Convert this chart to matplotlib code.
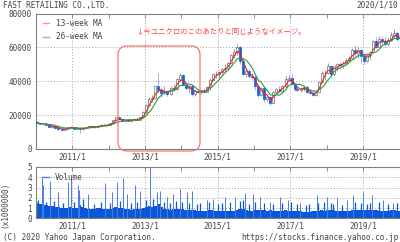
import matplotlib
matplotlib.use("Agg")
import matplotlib.pyplot as plt
import matplotlib.dates as mdates
from matplotlib.patches import FancyBboxPatch
from matplotlib.transforms import IdentityTransform
from matplotlib.lines import Line2D
import numpy as np
import pandas as pd

# ---------------- data (monthly candles, yen) ----------------
months = pd.date_range("2010-01-01", "2020-01-01", freq="MS")

open_ = [
    15800, 15200, 14900, 15000, 14000, 13200, 13500, 12300, 12000, 11500, 12100, 12700,
    12900, 12000, 12500, 11700, 12200, 12800, 13400, 13200, 12800, 13800, 14200, 13900,
    14100, 15300, 17000, 18600, 17600, 16400, 17200, 16800, 17100, 17800, 17300, 18600,
    21900, 25900, 29800, 30100, 37000, 35000, 33200, 34000, 32600, 36200, 35500, 41200,
    43500, 37800, 35800, 37000, 32500, 34200, 33400, 34200, 33800, 36400, 41000, 44000,
    44200, 45200, 47000, 48000, 50600, 55500, 57500, 60000, 52000, 44000, 46000, 43000,
    42300, 37000, 32000, 36000, 29500, 30500, 27300, 33800, 35400, 34000, 37200, 41500,
    42000, 38500, 35500, 35000, 35500, 36800, 33800, 33000, 31800, 33800, 39500, 45000,
    45000, 49000, 44500, 48800, 50000, 49500, 51000, 52500, 54000, 58500, 56500, 58500,
    55000, 52000, 55500, 57000, 63500, 60500, 65000, 64000, 62000, 64500, 67500, 68500,
    65000]
high = [
    16300, 15600, 15500, 15300, 14500, 13800, 13700, 12800, 12600, 12300, 13000, 13300,
    13200, 12800, 13000, 12500, 13000, 13600, 14000, 13600, 14000, 14600, 14800, 14500,
    15500, 17200, 18900, 19200, 18000, 17600, 18000, 17400, 18200, 18600, 18800, 22300,
    26500, 30500, 32000, 37500, 45000, 36500, 37000, 35000, 37000, 38500, 42000, 44800,
    44000, 39000, 37500, 38000, 35000, 35500, 35000, 35800, 37000, 42000, 45000, 46000,
    46000, 48000, 50000, 51500, 56000, 59000, 62000, 61000, 53000, 48000, 47000, 45000,
    43000, 38500, 36500, 37000, 32000, 31500, 34500, 36000, 37000, 38000, 43000, 43500,
    44000, 39000, 37000, 36500, 37500, 37500, 34500, 34000, 34500, 40000, 46000, 46500,
    51000, 49500, 49000, 50500, 51500, 52000, 53500, 55000, 59500, 61500, 60000, 59000,
    56000, 56000, 58000, 64500, 66000, 66500, 67000, 66000, 66000, 69000, 71000, 69500,
    66500]
low = [
    14800, 14500, 14200, 13800, 12800, 12500, 12000, 11500, 11200, 11000, 11800, 12300,
    11800, 11600, 9400, 11200, 11900, 12400, 12900, 12400, 12500, 13200, 13500, 13600,
    14000, 15100, 16800, 17300, 16000, 15800, 16600, 16200, 16700, 16900, 17000, 18400,
    21500, 25500, 27500, 29500, 33500, 30500, 32500, 31500, 32000, 34000, 35000, 40000,
    37000, 35000, 33800, 31500, 31500, 33000, 32500, 33200, 33500, 35000, 40500, 42000,
    42000, 44500, 45500, 46500, 50000, 54000, 55500, 50000, 43500, 42500, 42000, 41000,
    35000, 30500, 31000, 28000, 28500, 26000, 27000, 32500, 33000, 33500, 36000, 40000,
    38000, 34500, 34000, 33500, 34500, 33000, 32500, 31000, 31500, 33500, 39000, 41000,
    44000, 42500, 43000, 46000, 47500, 48000, 49500, 51500, 53500, 54500, 54000, 50500,
    50000, 51500, 53000, 56500, 59500, 60000, 62000, 60000, 61000, 63500, 65500, 64000,
    63000]
close = [
    15200, 14900, 15000, 14000, 13200, 13500, 12300, 12000, 11500, 12100, 12700, 12900,
    12000, 12500, 11700, 12200, 12800, 13400, 13200, 12800, 13800, 14200, 13900, 14100,
    15300, 17000, 18600, 17600, 16400, 17200, 16800, 17100, 17800, 17300, 18600, 21900,
    25900, 29800, 30100, 37000, 35000, 33200, 34000, 32600, 36200, 35500, 41200, 43500,
    37800, 35800, 37000, 32500, 34200, 33400, 34200, 33800, 36400, 41000, 44000, 44200,
    45200, 47000, 48000, 50600, 55500, 57500, 60000, 52000, 44000, 46000, 43000, 42300,
    37000, 32000, 36000, 29500, 30500, 27300, 33800, 35400, 34000, 37200, 41500, 42000,
    38500, 35500, 35000, 35500, 36800, 33800, 33000, 31800, 33800, 39500, 45000, 45000,
    49000, 44500, 48800, 50000, 49500, 51000, 52500, 54000, 58500, 56500, 58500, 55000,
    52000, 55500, 57000, 63500, 60500, 65000, 64000, 62000, 64500, 67500, 68500, 65000,
    63500]

# monthly base volume (x1,000,000 shares)
volume_base = [
    1.5, 1.4, 1.3, 1.3, 1.2, 1.2, 1.1, 1.1, 1.0, 1.0, 1.0, 1.1,
    1.0, 1.0, 1.3, 1.1, 1.0, 0.9, 0.9, 0.9, 1.0, 1.0, 0.9, 0.9,
    0.9, 1.0, 1.1, 1.0, 1.0, 0.9, 0.9, 0.8, 0.9, 0.9, 0.9, 1.0,
    1.1, 1.2, 1.1, 1.2, 1.4, 1.1, 0.9, 0.9, 0.8, 0.9, 0.9, 0.9,
    0.9, 0.8, 0.8, 0.8, 0.8, 0.7, 0.7, 0.7, 0.7, 0.8, 0.8, 0.7,
    0.7, 0.7, 0.7, 0.7, 0.7, 0.7, 0.8, 0.9, 0.9, 0.8, 0.7, 0.7,
    0.8, 0.8, 0.8, 0.8, 0.7, 0.8, 0.7, 0.7, 0.7, 0.7, 0.8, 0.7,
    0.7, 0.7, 0.7, 0.7, 0.6, 0.6, 0.6, 0.7, 0.7, 0.7, 0.8, 0.7,
    0.8, 0.8, 0.8, 0.7, 0.7, 0.7, 0.7, 0.7, 0.8, 0.8, 0.8, 0.8,
    0.8, 0.8, 0.8, 0.8, 0.8, 0.7, 0.7, 0.7, 0.7, 0.8, 0.8, 0.7,
    0.7]

# tall volume spikes
spike_dates = [
    "2010-02-28", "2010-03-14", "2010-05-22", "2010-08-10", "2010-11-17", "2010-12-24",
    "2011-02-28", "2011-03-14", "2011-06-05", "2011-11-24", "2012-02-02", "2012-03-21",
    "2012-05-26", "2012-07-01", "2012-09-24", "2012-11-14", "2013-02-21", "2013-05-01",
    "2013-06-03", "2013-08-08", "2013-10-09", "2013-12-20", "2014-02-24", "2014-04-16",
    "2014-09-13", "2014-11-17", "2015-03-18", "2015-06-25", "2015-10-05", "2015-12-24",
    "2016-03-03", "2016-06-13", "2016-09-20", "2016-12-09", "2017-04-10", "2017-09-24",
    "2018-01-05", "2018-04-12", "2018-07-24", "2018-09-24", "2019-01-05", "2019-04-01",
    "2019-07-24", "2019-10-30"]
spike_values = [
    4.0, 3.2, 3.6, 2.6, 3.5, 3.9,
    3.2, 2.8, 2.4, 3.4, 2.6, 3.5,
    3.9, 2.4, 3.2, 2.7, 5.0, 2.6,
    2.7, 2.1, 2.4, 2.9, 2.6, 2.7,
    1.8, 1.9, 2.1, 2.1, 2.5, 2.4,
    2.1, 1.6, 2.1, 1.8, 1.5, 2.3,
    2.1, 2.1, 1.8, 2.3, 2.6, 2.3,
    1.8, 1.5]

# smaller volume spikes
minor_spike_dates = [
    "2010-01-20", "2010-04-12", "2010-06-28", "2010-09-30", "2011-01-18", "2011-04-20",
    "2011-08-08", "2011-10-12", "2012-01-12", "2012-04-20", "2012-08-10", "2012-10-15",
    "2013-01-10", "2013-03-20", "2013-07-10", "2013-09-12", "2013-11-12", "2014-01-10",
    "2014-03-20", "2014-06-10", "2014-07-12", "2014-10-10", "2015-01-10", "2015-02-10",
    "2015-05-10", "2015-08-12", "2015-09-10", "2015-11-10", "2016-01-08", "2016-04-10",
    "2016-07-10", "2016-10-10", "2017-01-10", "2017-03-10", "2017-06-10", "2017-07-10",
    "2017-10-12", "2017-12-10", "2018-02-10", "2018-03-10", "2018-06-10", "2018-10-12",
    "2018-12-10", "2019-02-10", "2019-03-10", "2019-06-10", "2019-09-12", "2019-12-10"]
minor_spike_values = [
    1.8, 1.6, 1.7, 1.5, 1.6, 1.9,
    1.4, 1.6, 1.5, 1.7, 1.5, 1.6,
    1.8, 1.9, 1.6, 1.5, 1.7, 1.6,
    1.5, 1.4, 1.5, 1.6, 1.4, 1.5,
    1.6, 1.7, 1.8, 1.4, 1.6, 1.5,
    1.4, 1.5, 1.6, 1.4, 1.3, 1.4,
    1.5, 1.6, 1.5, 1.4, 1.3, 1.6,
    1.5, 1.4, 1.5, 1.6, 1.4, 1.5]

major_tick_dates = ["2011-01-01", "2013-01-01", "2015-01-01", "2017-01-01", "2019-01-01"]
major_tick_labels = ["2011/1", "2013/1", "2015/1", "2017/1", "2019/1"]
minor_tick_dates = ["2012-01-01", "2014-01-01", "2016-01-01", "2018-01-01"]
price_ticks = [0, 20000, 40000, 60000, 80000]
volume_ticks = [0, 1, 2, 3, 4, 5]

# ---------------- styles ----------------
FONT = "DejaVu Sans Mono"
FS = 5.6
TXT = "#444444"
SPINE = "#808080"
GRID = "#a0a0a0"
BLUE = "#1a5ce0"
plt.rcParams["font.family"] = [FONT, "DejaVu Sans"]

o = np.array(open_, float); h = np.array(high, float)
l = np.array(low, float); c = np.array(close, float)
x = mdates.date2num(months.to_pydatetime()) + 14
up = c >= o

ma13 = pd.Series(c).rolling(3, min_periods=1).mean().values
ma26 = pd.Series(c).rolling(6, min_periods=1).mean().values

fig = plt.figure(figsize=(4, 2.42), dpi=100)
W, H = 400, 242
ax = fig.add_axes([36 / W, 1 - 149 / H, 364 / W, (149 - 13.5) / H])
axv = fig.add_axes([36 / W, 1 - 218.3 / H, 364 / W, (218.3 - 167) / H])

xmin = mdates.date2num(pd.Timestamp("2010-01-01").to_pydatetime())
xmax = mdates.date2num(pd.Timestamp("2020-01-10").to_pydatetime())
majors = mdates.date2num(pd.to_datetime(major_tick_dates).to_pydatetime())
minors = mdates.date2num(pd.to_datetime(minor_tick_dates).to_pydatetime())

for a in (ax, axv):
    a.set_xlim(xmin, xmax)
    a.set_xticks(majors)
    a.set_xticks(minors, minor=True)
    a.set_xticklabels(major_tick_labels)
    a.tick_params(axis="x", which="both", direction="in", top=True, bottom=True,
                  length=3, width=0.6, color=SPINE, labelsize=FS, labelcolor=TXT, pad=2.5)
    a.tick_params(axis="y", which="both", direction="in", length=0,
                  labelsize=FS, labelcolor=TXT, pad=3)
    for s in ("left", "bottom", "top"):
        a.spines[s].set_color(SPINE)
        a.spines[s].set_linewidth(0.8)
    a.spines["right"].set_visible(False)
    a.grid(True, which="major", linestyle=(0, (1, 2)), color=GRID, lw=0.7)
    a.set_axisbelow(True)

# price panel
ax.set_ylim(0, 80000)
ax.set_yticks(price_ticks)
ax.set_yticklabels([str(v) for v in price_ticks])

ax.vlines(x[up], l[up], h[up], color="#8a8a8a", lw=0.6, zorder=2)
ax.vlines(x[~up], l[~up], h[~up], color="#8aa6ee", lw=0.6, zorder=2)
ax.bar(x[up], c[up] - o[up], bottom=o[up], width=20, color="white",
       edgecolor="#707070", lw=0.5, zorder=3)
ax.bar(x[~up], o[~up] - c[~up], bottom=c[~up], width=20, color=BLUE,
       edgecolor=BLUE, lw=0.5, zorder=3)
ax.plot(x, ma13, color="#f02020", lw=0.8, zorder=4)
ax.plot(x, ma26, color="#20a040", lw=0.8, zorder=4)

handles = [Line2D([], [], color="#ff9090", lw=1.0), Line2D([], [], color="#80c890", lw=1.0)]
ax.legend(handles, ["13-week MA", "26-week MA"], loc="upper left", frameon=False,
          fontsize=FS, labelcolor=TXT, handlelength=0.8, handletextpad=0.8,
          borderaxespad=0.3, labelspacing=0.55, bbox_to_anchor=(0.005, 1.0))

# volume panel
axv.set_ylim(0, 5)
axv.set_yticks(volume_ticks)
axv.set_yticklabels([str(v) for v in volume_ticks])
axv.bar(x, volume_base, width=31, color="#0a58d8", lw=0, zorder=2)
msd = mdates.date2num(pd.to_datetime(minor_spike_dates).to_pydatetime())
axv.vlines(msd, 0, minor_spike_values, color="#0a58d8", lw=0.9, zorder=2)
sd = mdates.date2num(pd.to_datetime(spike_dates).to_pydatetime())
axv.vlines(sd, 0, spike_values, color="#4a7ce6", lw=0.7, zorder=2)
axv.legend([Line2D([], [], color="#4a7ee8", lw=1.0)], ["Volume"], loc="upper left",
           frameon=False, fontsize=FS, labelcolor=TXT, handlelength=0.8,
           handletextpad=0.8, borderaxespad=0.2, bbox_to_anchor=(0.005, 0.97))

# texts
fig.text(3 / W, 1 - 5.5 / H, "FAST RETAILING CO.,LTD.", fontsize=FS, color=TXT,
         va="center", ha="left")
fig.text(398 / W, 1 - 5.5 / H, "2020/1/10", fontsize=FS, color=TXT, va="center", ha="right")
fig.text(3 / W, 1 - 237 / H, "(C) 2020 Yahoo Japan Corporation.", fontsize=FS, color=TXT,
         va="center", ha="left")
fig.text(398 / W, 1 - 237 / H, "https://stocks.finance.yahoo.co.jp", fontsize=FS, color=TXT,
         va="center", ha="right")
fig.text(5 / W, 1 - 205 / H, "(x1000000)", fontsize=FS, color=TXT, rotation=90,
         va="center", ha="center")

fig.text(136 / W, 1 - 31.5 / H, "↓今ユニクロのこのあたりと同じようなイメージ。",
         fontsize=5.3, color="#ff4040", va="center", ha="left",
         family=["Noto Sans CJK JP", "DejaVu Sans"])

box = FancyBboxPatch((118, H - 151), 82, 105, boxstyle="round,pad=0,rounding_size=9",
                     transform=IdentityTransform(), fill=False, ec="#f07878", lw=0.9)
fig.add_artist(box)

fig.savefig("out.png", dpi=100)
